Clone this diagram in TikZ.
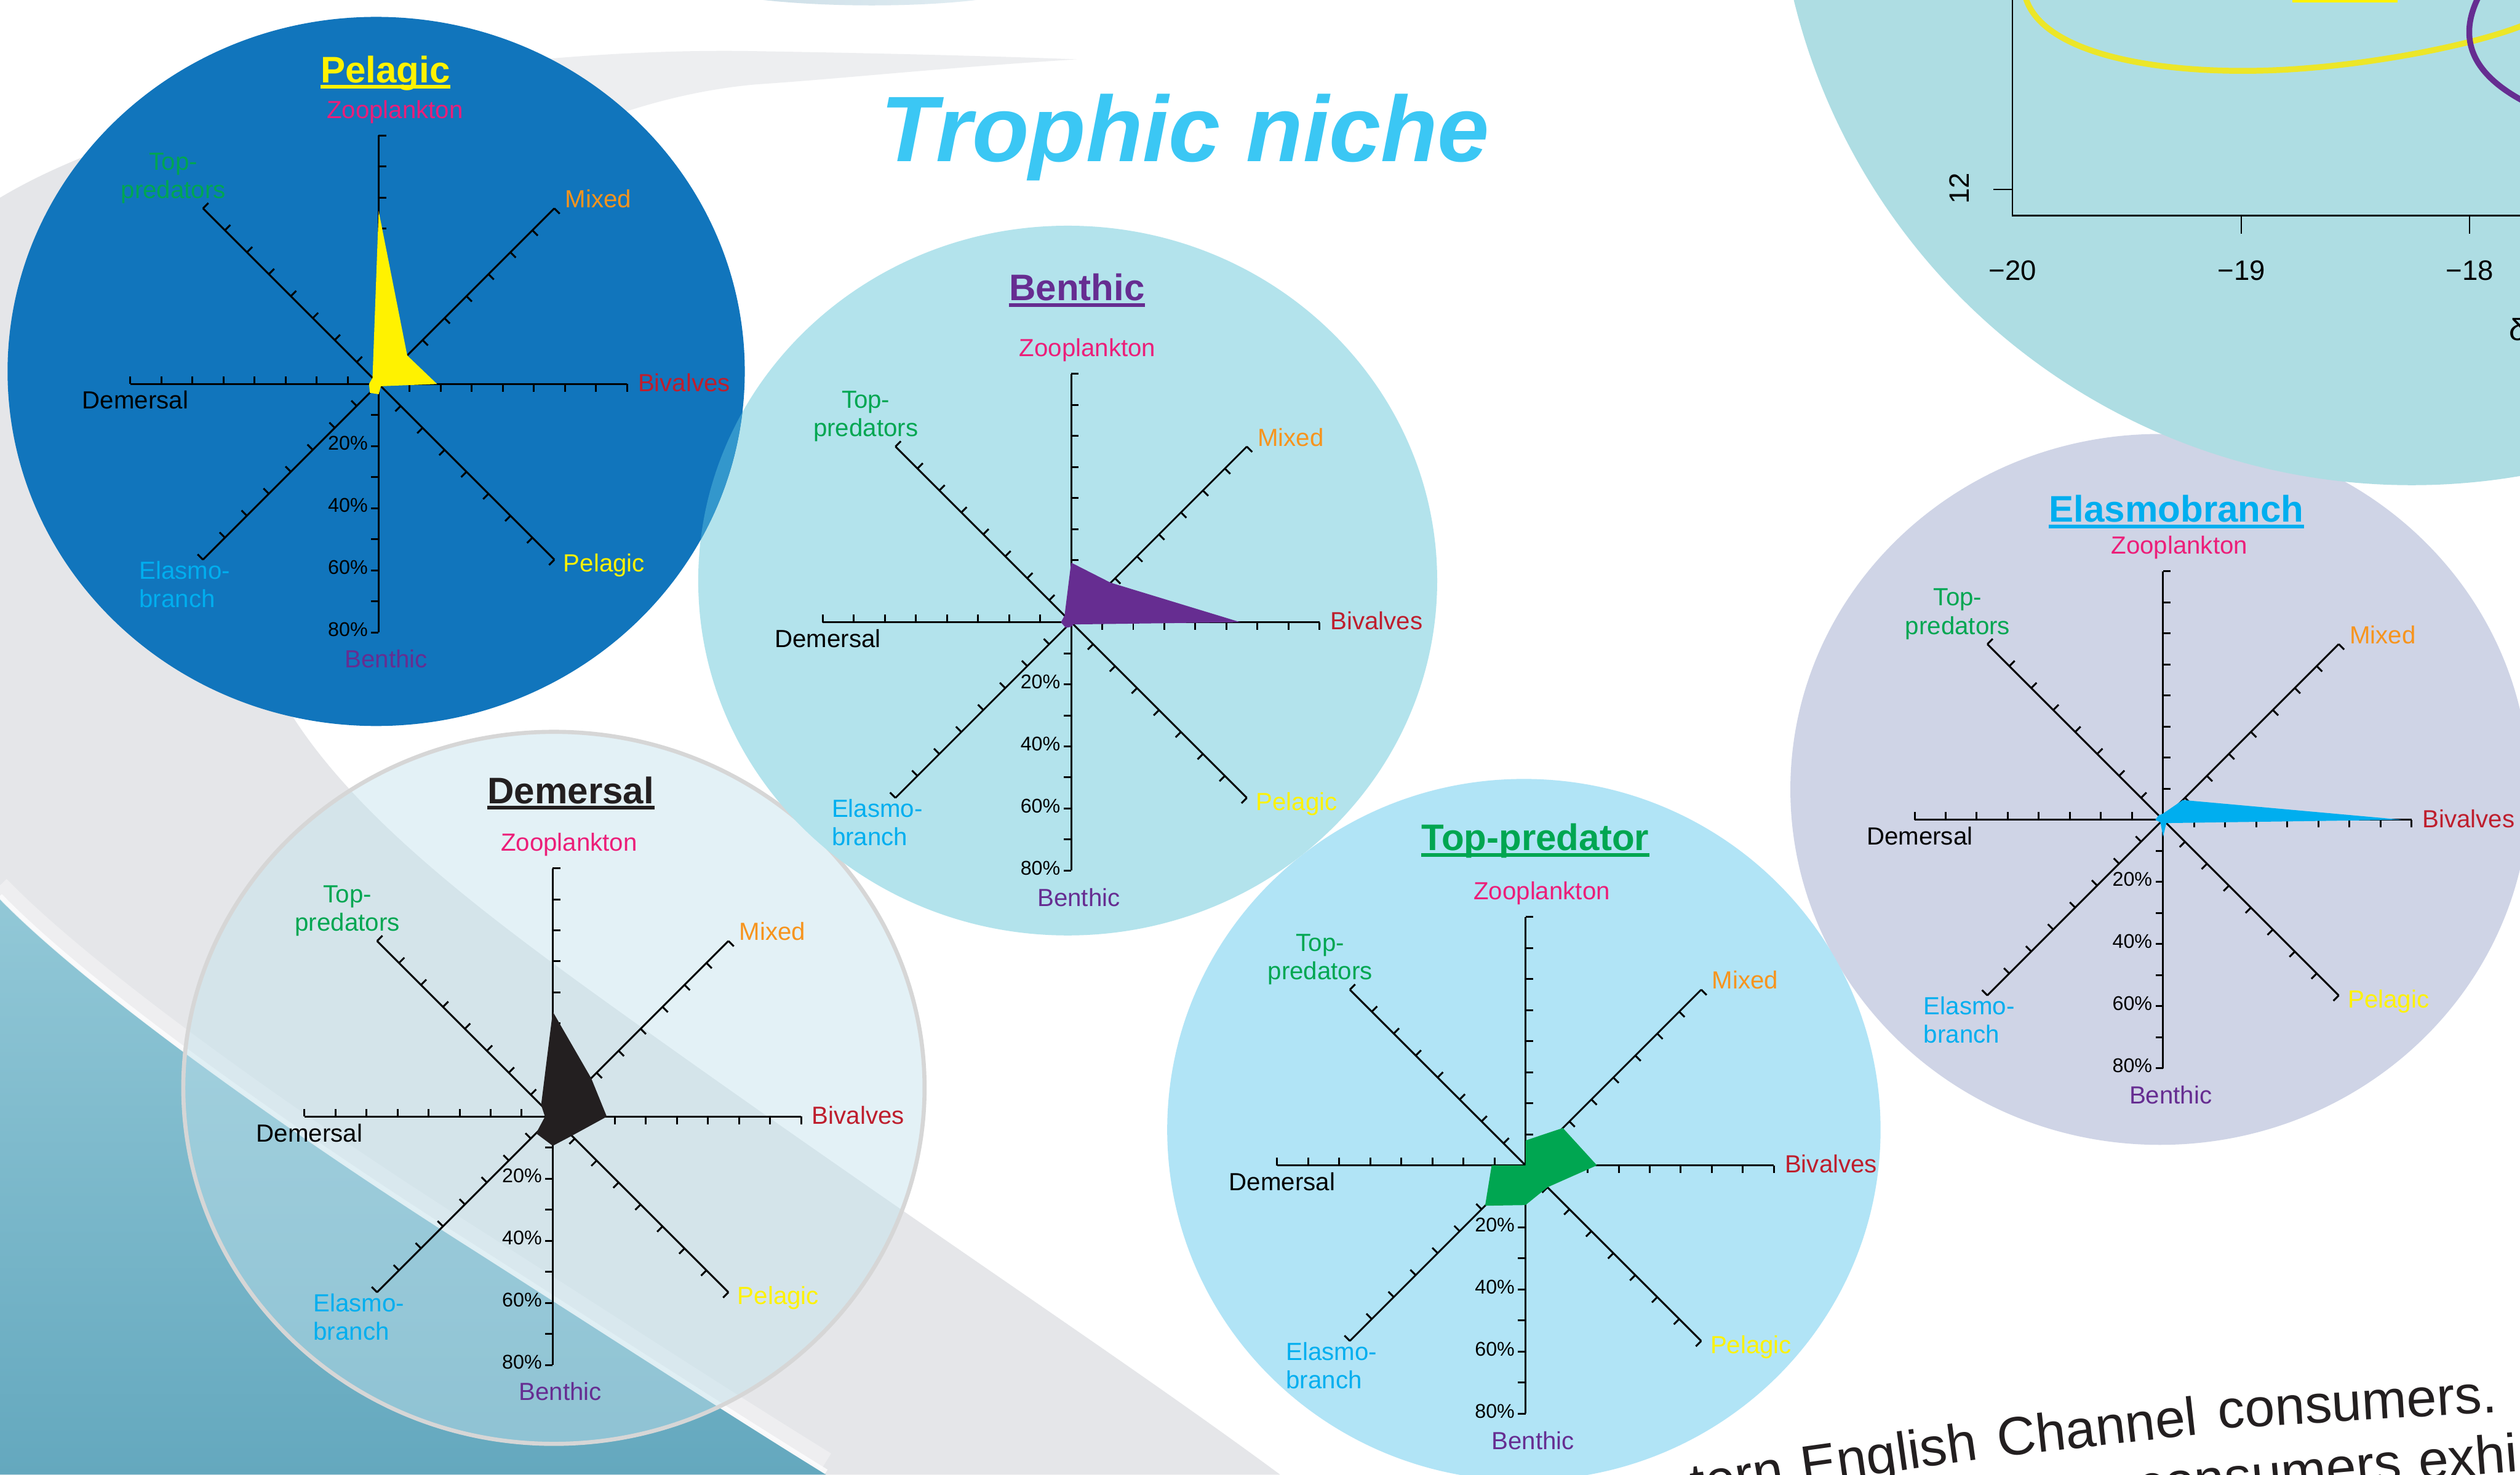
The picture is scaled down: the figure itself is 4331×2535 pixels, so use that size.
\documentclass[tikz,border=0pt]{standalone}
\usepackage{fontspec}
\setmainfont{Liberation Sans}
\usetikzlibrary{calc}

\definecolor{cpelc}{RGB}{17,117,188}
\definecolor{cbenc}{RGB}{179,227,236}
\definecolor{cdemc}{RGB}{193,226,237}
\definecolor{cdemb}{RGB}{214,214,214}
\definecolor{ctopc}{RGB}{177,228,246}
\definecolor{celac}{RGB}{207,212,230}
\definecolor{ctrc}{RGB}{174,221,227}
\definecolor{coverl}{RGB}{51,151,204}
\definecolor{czoo}{RGB}{236,30,121}
\definecolor{ctop}{RGB}{0,166,81}
\definecolor{cmix}{RGB}{247,148,29}
\definecolor{cbiv}{RGB}{190,30,45}
\definecolor{cpel}{RGB}{255,242,0}
\definecolor{cben}{RGB}{102,45,145}
\definecolor{cela}{RGB}{0,174,239}
\definecolor{cdark}{RGB}{35,31,32}
\definecolor{ctitle}{RGB}{59,199,244}
\definecolor{bggray}{RGB}{229,230,233}
\definecolor{bggrayl}{RGB}{237,238,240}
\definecolor{cteala}{RGB}{146,200,215}
\definecolor{ctealb}{RGB}{100,168,190}
\definecolor{cyel}{RGB}{236,230,40}
\definecolor{ctopella}{RGB}{204,222,231}
\definecolor{ctopellb}{RGB}{226,238,243}

% radar chart axes + labels: #1 prefix, #2 x, #3 y of origin
\newcommand\radar[3]{%
\begin{scope}[shift={(#2,#3)}]
\foreach \dx/\dy in {1/0,0.7071/-0.7071,0/-1,-0.7071/-0.7071,-1/0,-0.7071/0.7071,0/1,0.7071/0.7071}{
  \draw[axisline] (0,0) -- ({427*\dx},{427*\dy});
  \foreach \k in {1,...,8}{
    \draw[axisline] ({53.375*\k*\dx},{53.375*\k*\dy}) -- ++({-13*(\dy)},{13*(\dx)});
  }
}
\node[lab,text=czoo,anchor=base] (#1zoo) at (28,-457) {Zooplankton};
\node[lab,text=ctop,anchor=base] (#1topa) at (-353,-368) {Top-};
\node[lab,text=ctop,anchor=base] (#1topb) at (-353,-319) {predators};
\node[lab,text=cmix,anchor=base west] (#1mix) at (320,-303) {Mixed};
\node[lab,text=cbiv,anchor=base west] (#1biv) at (445,13) {Bivalves};
\node[lab,text=cpel,anchor=base west] (#1pel) at (317,323) {Pelagic};
\node[lab,text=cben,anchor=base] (#1ben) at (13,488) {Benthic};
\node[lab,text=cela,anchor=base west] (#1elaa) at (-412,335) {Elasmo-};
\node[lab,text=cela,anchor=base west] (#1elab) at (-412,384) {branch};
\node[lab,text=black,anchor=base west] (#1dem) at (-510,43) {Demersal};
\foreach \k in {2,4,6,8}{
  \pgfmathtruncatemacro\pc{10*\k}
  \node[pct,anchor=base east] (#1pc\k) at (-18,{53.375*\k+7}) {\pc\%};
}
\end{scope}}

% polygon: #1 x, #2 y, #3 colour, #4 values (Biv,Mix,Zoo,Top,Dem,Ela,Ben,Pel)
\newcommand\radpoly[4]{%
\begin{scope}[shift={(#1,#2)}]
\foreach \v [count=\i] in {#4}{
  \coordinate (P\i) at ({5.3375*\v*cos(45*(\i-1))},{-5.3375*\v*sin(45*(\i-1))});
}
\fill[#3] (P1)--(P2)--(P3)--(P4)--(P5)--(P6)--(P7)--(P8)--cycle;
\end{scope}}

% underlined chart title
\newcommand\charttitle[5]{%
\node[ttl,text=#4,anchor=base] (#1) at (#2,#3) {#5};
\draw[#4,line width=1.7pt] ([yshift=-2.1pt]#1.base west) -- ([yshift=-2.1pt]#1.base east);}

\newcommand\swooshpath{(0,340) .. controls (300,160) and (900,80) .. (1300,88)
  .. controls (1550,92) and (1750,98) .. (1850,102)
  .. controls (1600,118) and (1450,135) .. (1300,145)
  .. controls (900,180) and (400,500) .. (420,1000)
  .. controls (440,1300) and (800,1550) .. (1150,1800)
  .. controls (1600,2120) and (1950,2350) .. (2200,2535)
  -- (0,2535) -- cycle}

\begin{document}
\begin{tikzpicture}[x=0.01cm,y=-0.01cm,
  axisline/.style={line width=0.9pt,black},
  lab/.style={inner sep=0pt,font=\fontsize{12.1}{14}\selectfont},
  pct/.style={inner sep=0pt,font=\fontsize{9.7}{11}\selectfont},
  ttl/.style={inner sep=0pt,font=\fontsize{18.07}{21}\selectfont\bfseries},
  numlab/.style={inner sep=0pt,font=\fontsize{13.7}{15}\selectfont},
  bodytext/.style={inner sep=0pt,text=cdark,font=\fontsize{26.4}{30}\selectfont}]
\useasboundingbox (0,0) rectangle (4331,2535);
\clip (0,0) rectangle (4331,2535);
\fill[white] (0,0) rectangle (4331,2535);

% ---------- background swoosh ----------
\fill[bggrayl] \swooshpath;
\begin{scope}
  \clip (0,0) rectangle (930,2535) (930,600) rectangle (2400,2535);
  \fill[bggray] \swooshpath;
\end{scope}
\shade[top color=cteala,bottom color=ctealb]
  (0,1545) .. controls (150,1700) and (500,1950) .. (817,2151)
  .. controls (1050,2300) and (1250,2430) .. (1420,2535) -- (0,2535) -- cycle;
\draw[white,line width=9pt,opacity=0.35] (0,1522) .. controls (150,1677) and (500,1927) .. (817,2128)
  .. controls (1050,2277) and (1250,2407) .. (1420,2512);
\draw[white,line width=2.5pt,opacity=0.75] (0,1540) .. controls (150,1695) and (500,1945) .. (817,2146)
  .. controls (1050,2295) and (1250,2425) .. (1420,2530);
\shade[left color=ctopella,right color=ctopellb] (1273,-5) .. controls (1400,14) and (1600,14) .. (1713,-5) -- cycle;

% ---------- circles ----------
\fill[celac] (3712,1357) ellipse [x radius=635, y radius=611];
\fill[ctrc] (4145,-259) ellipse [x radius=1093, y radius=1093];
% top-right plot fragment
\draw[cyel,line width=2.85pt] (3478,-20) .. controls (3490,90) and (3700,128) .. (3900,121)
  .. controls (4050,116) and (4250,80) .. (4345,40);
\draw[cben,line width=2.85pt] (4262,-10) .. controls (4225,60) and (4240,125) .. (4345,178);
\fill[cpel] (3940,0) rectangle (4120,4);
\draw[line width=0.7pt] (3458.5,-10) -- (3458.5,370.5) -- (4345,370.5);
\draw[line width=0.7pt] (3852,370.5) -- (3852,401.5);
\draw[line width=0.7pt] (4244.5,370.5) -- (4244.5,401.5);
\draw[line width=0.7pt] (3426,325.5) -- (3458.5,325.5);
\node[numlab,anchor=base] (xa) at (3459,482) {−20};
\node[numlab,anchor=base] (xb) at (3852,482) {−19};
\node[numlab,anchor=base] (xc) at (4244.5,482) {−18};
\node[numlab,rotate=90] (ya) at (3367,324) {12};
\node[numlab,anchor=base west,font=\fontsize{15}{17}\selectfont] (dl) at (4312,585) {δ};

\fill[ctopc] (2619,1942) ellipse [x radius=613, y radius=603];
\fill[cdemc,fill opacity=0.45] (952,1870) ellipse [x radius=637, y radius=612];
\draw[cdemb,line width=2pt] (952,1870) ellipse [x radius=637, y radius=612];
\fill[cbenc] (1835,998) ellipse [x radius=635, y radius=610];
\fill[cpelc] (646.5,638.5) ellipse [x radius=633.5, y radius=609.5];
\begin{scope}
  \clip (646.5,638.5) ellipse [x radius=633.5, y radius=609.5];
  \fill[coverl] (1835,998) ellipse [x radius=635, y radius=610];
\end{scope}

% ---------- title ----------
\node[inner sep=0pt,anchor=base west,text=ctitle,font=\fontsize{45.5}{50}\selectfont\bfseries\itshape] (trophic) at (1513,277.5) {Trophic niche};

% ---------- charts ----------
\radar{pe}{650.8}{660.1}
\radpoly{650.8}{660.1}{cpel}{18.8,13,55.7,2.8,3.1,4,3.3,1}
\charttitle{tpe}{662.5}{141.9}{cpel}{Pelagic}

\radar{be}{1840.9}{1069.6}
\radpoly{1840.9}{1069.6}{cben}{54.5,18,19.2,3,3.3,2.5,1.5,1}
\charttitle{tbe}{1851}{517}{cben}{Benthic}

\radar{de}{950}{1919.5}
\radpoly{950}{1919.5}{cdark}{17.4,17.5,33.8,5.3,2.5,7.6,9.4,8.7}
\charttitle{tde}{981}{1381}{cdark}{Demersal}

\radar{tp}{2621.8}{2003.2}
\radpoly{2621.8}{2003.2}{ctop}{23,17,8,0,10.9,18.4,12.8,10}
\charttitle{ttp}{2638.6}{1462}{ctop}{Top-predator}

\radar{el}{3717.5}{1409.2}
\radpoly{3717.5}{1409.2}{cela}{77,9,2,2,2.5,1.2,5.5,1.5}
\charttitle{tel}{3740.5}{897.4}{cela}{Elasmobranch}

% ---------- body text (curved line) ----------
\node[bodytext,anchor=base west,rotate=3.4] (w4) at (3813,2456) {consumers.};
\node[bodytext,anchor=base east,rotate=6.4] (w3) at (3780,2466) {Channel};
\node[bodytext,anchor=base east,rotate=8] (w2) at (3402,2509) {English};
\node[bodytext,anchor=base east,rotate=9.5] (w1) at (3070,2556) {tern};
\node[bodytext,anchor=base east,rotate=5] (v1) at (4130,2545) {consumers};
\node[bodytext,anchor=base west,rotate=4.5] (v2) at (4158,2543) {exhi};
\end{tikzpicture}
\end{document}
